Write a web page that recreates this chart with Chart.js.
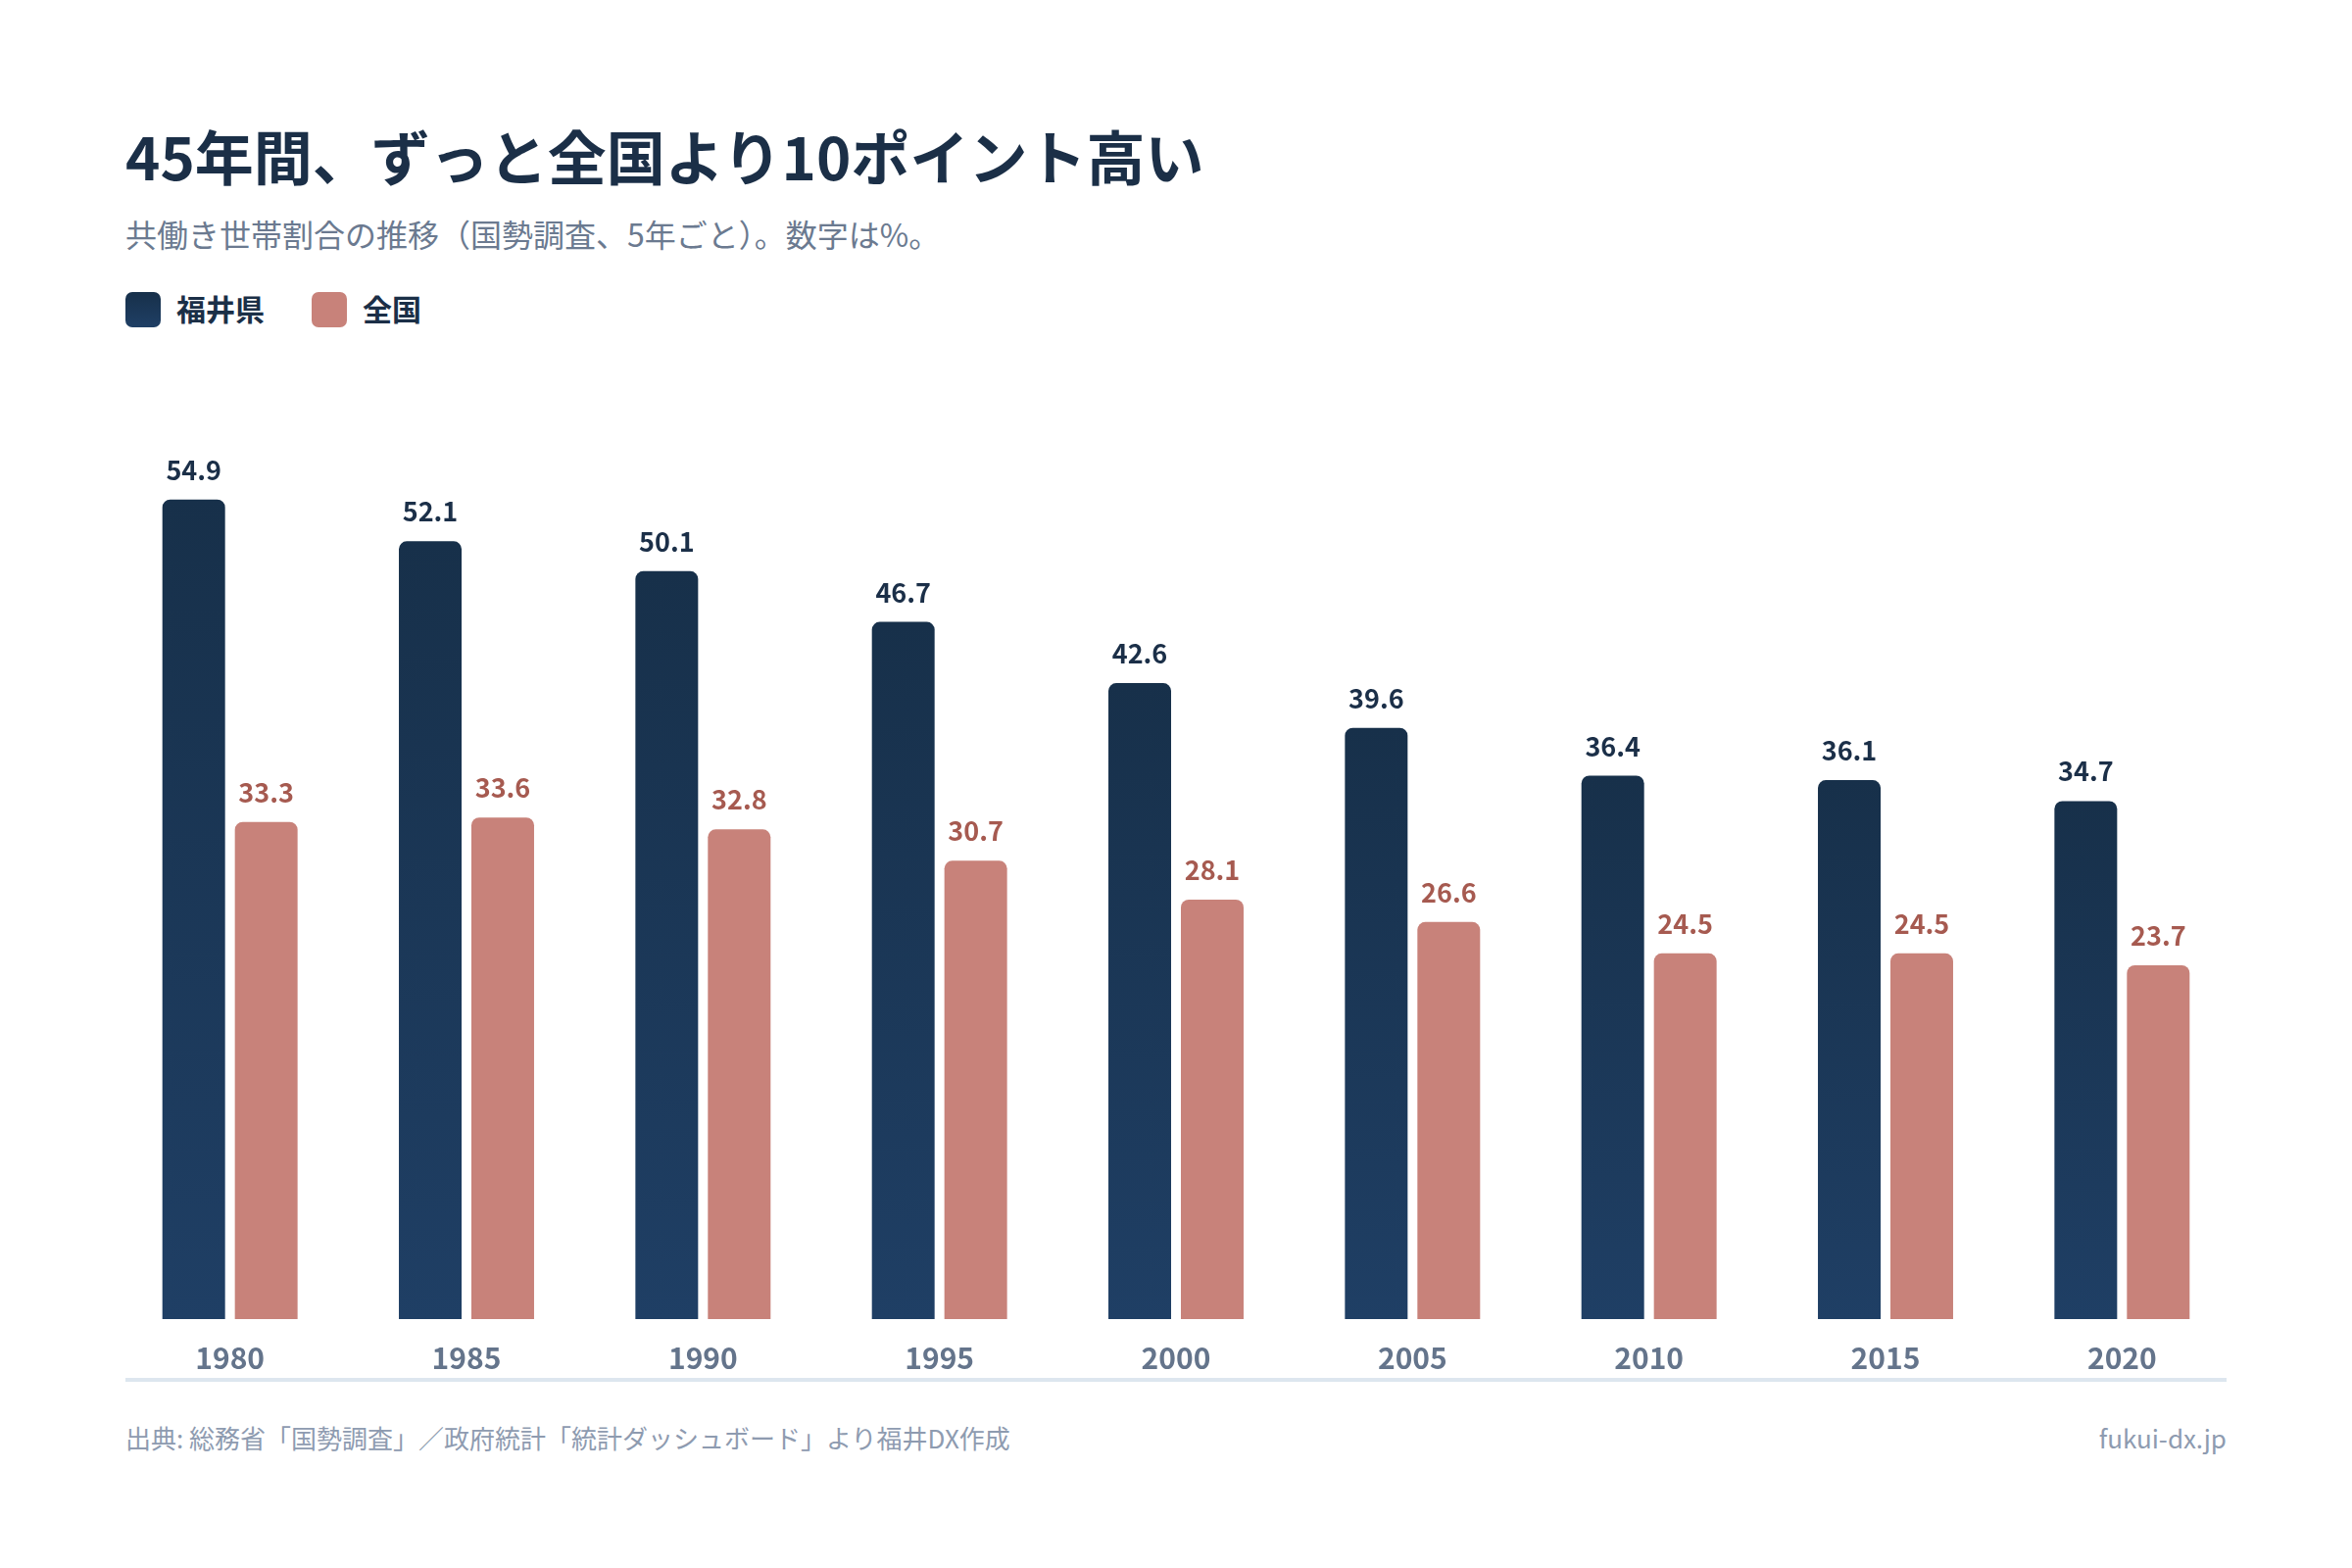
<!DOCTYPE html>
<html lang="ja">
<head>
<meta charset="utf-8">
<script src="https://cdn.jsdelivr.net/npm/chart.js@4.4.1/dist/chart.umd.min.js"></script>
<style>
  html, body { margin: 0; padding: 0; background: #ffffff; }
  body { width: 2400px; height: 1600px; position: relative; overflow: hidden;
         font-family: "Noto Sans CJK JP", "Noto Sans", sans-serif; }
  .abs { position: absolute; white-space: nowrap; line-height: 1; }
  #title { left: 128px; top: 128px; font-size: 60px; font-weight: 700; color: #1b2f47; }
  #subtitle { left: 128px; top: 222px; font-size: 32px; color: #6b7a90; }
  .legend-box { position: absolute; width: 36px; height: 36px; border-radius: 7px; }
  .legend-text { font-size: 30px; font-weight: 700; color: #1b2f47; }
  #chartWrap { position: absolute; left: 114px; top: 432px; width: 2172px; height: 994px; }
  #axisLine { position: absolute; left: 128px; top: 1406px; width: 2144px; height: 4px; background: #dde6ef; }
  .footer { top: 1454px; font-size: 26px; color: #8e9bb0; }
</style>
</head>
<body>
<div id="title" class="abs">45年間、ずっと全国より10ポイント高い</div>
<div id="subtitle" class="abs">共働き世帯割合の推移（国勢調査、5年ごと）。数字は%。</div>

<div class="legend-box" style="left:128px; top:298px; background:linear-gradient(#17304a, #1f3f65);"></div>
<div class="abs legend-text" style="left:180px; top:299px;">福井県</div>
<div class="legend-box" style="left:318px; top:298px; background:#c8827a;"></div>
<div class="abs legend-text" style="left:370px; top:299px;">全国</div>

<div id="chartWrap"><canvas id="shareChart"></canvas></div>
<div id="axisLine"></div>

<div class="abs footer" style="left:128px;">出典: 総務省「国勢調査」／政府統計「統計ダッシュボード」より福井DX作成</div>
<div class="abs footer" style="right:128px;">fukui-dx.jp</div>

<script>
const years = ['1980', '1985', '1990', '1995', '2000', '2005', '2010', '2015', '2020'];
const fukuiShare = [54.9, 52.1, 50.1, 46.7, 42.6, 39.6, 36.4, 36.1, 34.7];
const nationalShare = [33.3, 33.6, 32.8, 30.7, 28.1, 26.6, 24.5, 24.5, 23.7];

Chart.defaults.font.family = '"Noto Sans CJK JP", "Noto Sans", sans-serif';

// navy bars fade slightly lighter toward the bottom
function navyGradient(ctx) {
    const chart = ctx.chart;
    if (!chart.chartArea || ctx.type !== 'data') {
        return '#1c3856';
    }
    const y = chart.scales.y;
    const top = y.getPixelForValue(ctx.raw);
    const bottom = y.getPixelForValue(0);
    const g = chart.ctx.createLinearGradient(0, top, 0, bottom);
    g.addColorStop(0, '#17304a');
    g.addColorStop(1, '#1f3f65');
    return g;
}

// value labels above each bar
const valueLabels = {
    id: 'valueLabels',
    afterDatasetsDraw(chart) {
        const c = chart.ctx;
        c.save();
        c.font = '700 27px "Noto Sans CJK JP", sans-serif';
        c.textAlign = 'center';
        c.textBaseline = 'alphabetic';
        chart.data.datasets.forEach((ds, i) => {
            c.fillStyle = ds.labelColor;
            chart.getDatasetMeta(i).data.forEach((bar, j) => {
                c.fillText(ds.data[j].toFixed(1), bar.x, bar.y - 20);
            });
        });
        c.restore();
    }
};

new Chart(document.getElementById('shareChart'), {
    type: 'bar',
    data: {
        labels: years,
        datasets: [{
            label: '福井県',
            data: fukuiShare,
            backgroundColor: navyGradient,
            labelColor: '#1b2f48',
            borderRadius: { topLeft: 8, topRight: 8 },
            borderSkipped: 'start'
        }, {
            label: '全国',
            data: nationalShare,
            backgroundColor: '#c8827a',
            labelColor: '#a65a50',
            borderRadius: { topLeft: 8, topRight: 8 },
            borderSkipped: 'start'
        }]
    },
    options: {
        responsive: true,
        maintainAspectRatio: false,
        animation: false,
        categoryPercentage: 0.613,
        barPercentage: 0.865,
        layout: { padding: 0 },
        plugins: {
            legend: { display: false },
            tooltip: { enabled: false }
        },
        scales: {
            x: {
                grid: { display: false, drawTicks: false },
                border: { display: false },
                ticks: {
                    color: '#64748b',
                    padding: 22,
                    font: { size: 30, weight: '700' }
                }
            },
            y: {
                display: false,
                min: 0,
                max: 60
            }
        }
    },
    plugins: [valueLabels]
});
</script>
</body>
</html>
